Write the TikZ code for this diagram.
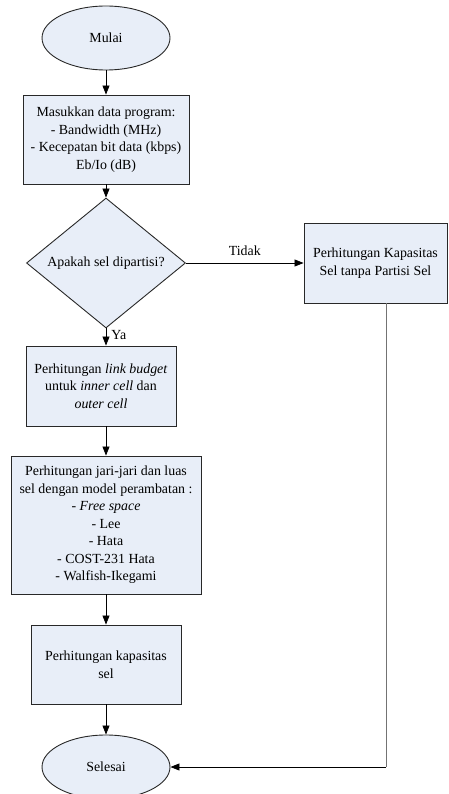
\documentclass[tikz,border=0pt]{standalone}
\usepackage{fontspec}
\setmainfont{Liberation Serif}
\usetikzlibrary{shapes.geometric,arrows.meta}
\definecolor{boxfill}{RGB}{232,238,248}
\definecolor{boxline}{RGB}{40,40,40}
\tikzset{
  every node/.style={font=\fontsize{13.9}{17.5}\selectfont},
  stepbox/.style={draw=boxline, line width=0.9pt, fill=boxfill, rectangle, align=center, inner sep=0pt},
  terminal/.style={draw=boxline, line width=0.9pt, fill=boxfill, ellipse, inner sep=0pt, minimum width=128pt, minimum height=64pt},
  decision/.style={draw=boxline, line width=0.9pt, fill=boxfill, diamond, inner sep=0pt, minimum width=159pt, minimum height=110pt},
  flow/.style={draw=black, line width=0.8pt, -{Triangle[length=9pt,width=7pt]}},
  lbl/.style={font=\fontsize{13.9}{16}\selectfont, inner sep=0pt}
}
\begin{document}
\begin{tikzpicture}[x=1pt,y=-1pt]
\useasboundingbox (0,0) rectangle (448,794);
\node[terminal] (start) at (106,38) {Mulai};
\node[stepbox, minimum width=166pt, minimum height=89pt] (input) at (106,139.5)
  {Masukkan data program:\\- Bandwidth (MHz)\\- Kecepatan bit data (kbps)\\Eb/Io (dB)};
\node[decision] (dec) at (106,263) {Apakah sel dipartisi?};
\node[stepbox, minimum width=143pt, minimum height=80pt] (nopart) at (375.5,263)
  {Perhitungan Kapasitas\\Sel tanpa Partisi Sel};
\node[stepbox, minimum width=150pt, minimum height=80pt] (link) at (101,386)
  {Perhitungan \textit{link budget}\\untuk \textit{inner cell} dan\\\textit{outer cell}};
\node[stepbox, minimum width=190pt, minimum height=138pt] (radius) at (106,525)
  {Perhitungan jari-jari dan luas\\sel dengan model perambatan :\\- \textit{Free space}\\- Lee\\- Hata\\- COST-231 Hata\\- Walfish-Ikegami};
\node[stepbox, minimum width=150pt, minimum height=79pt] (cap) at (106,664.5)
  {Perhitungan kapasitas\\sel};
\node[terminal] (end) at (106,767) {Selesai};
\coordinate (corner) at (386,767);

\draw[flow] (start) -- (input);
\draw[flow] (input) -- (dec);
\draw[flow] (dec.south) -- (dec.south |- link.north) node[lbl, pos=0.4, right=5pt] {Ya};
\draw[flow] (dec.east) -- (dec.east -| nopart.west) node[lbl, midway, above=7pt] {Tidak};
\draw[flow] (dec.south |- link.south) -- (dec.south |- radius.north);
\draw[flow] (radius) -- (cap);
\draw[flow] (cap) -- (end);
\draw[line width=0.8pt, draw=black!55] (nopart.south -| corner) -- (corner);
\draw[flow] (corner) -- (end.east);
\end{tikzpicture}
\end{document}
